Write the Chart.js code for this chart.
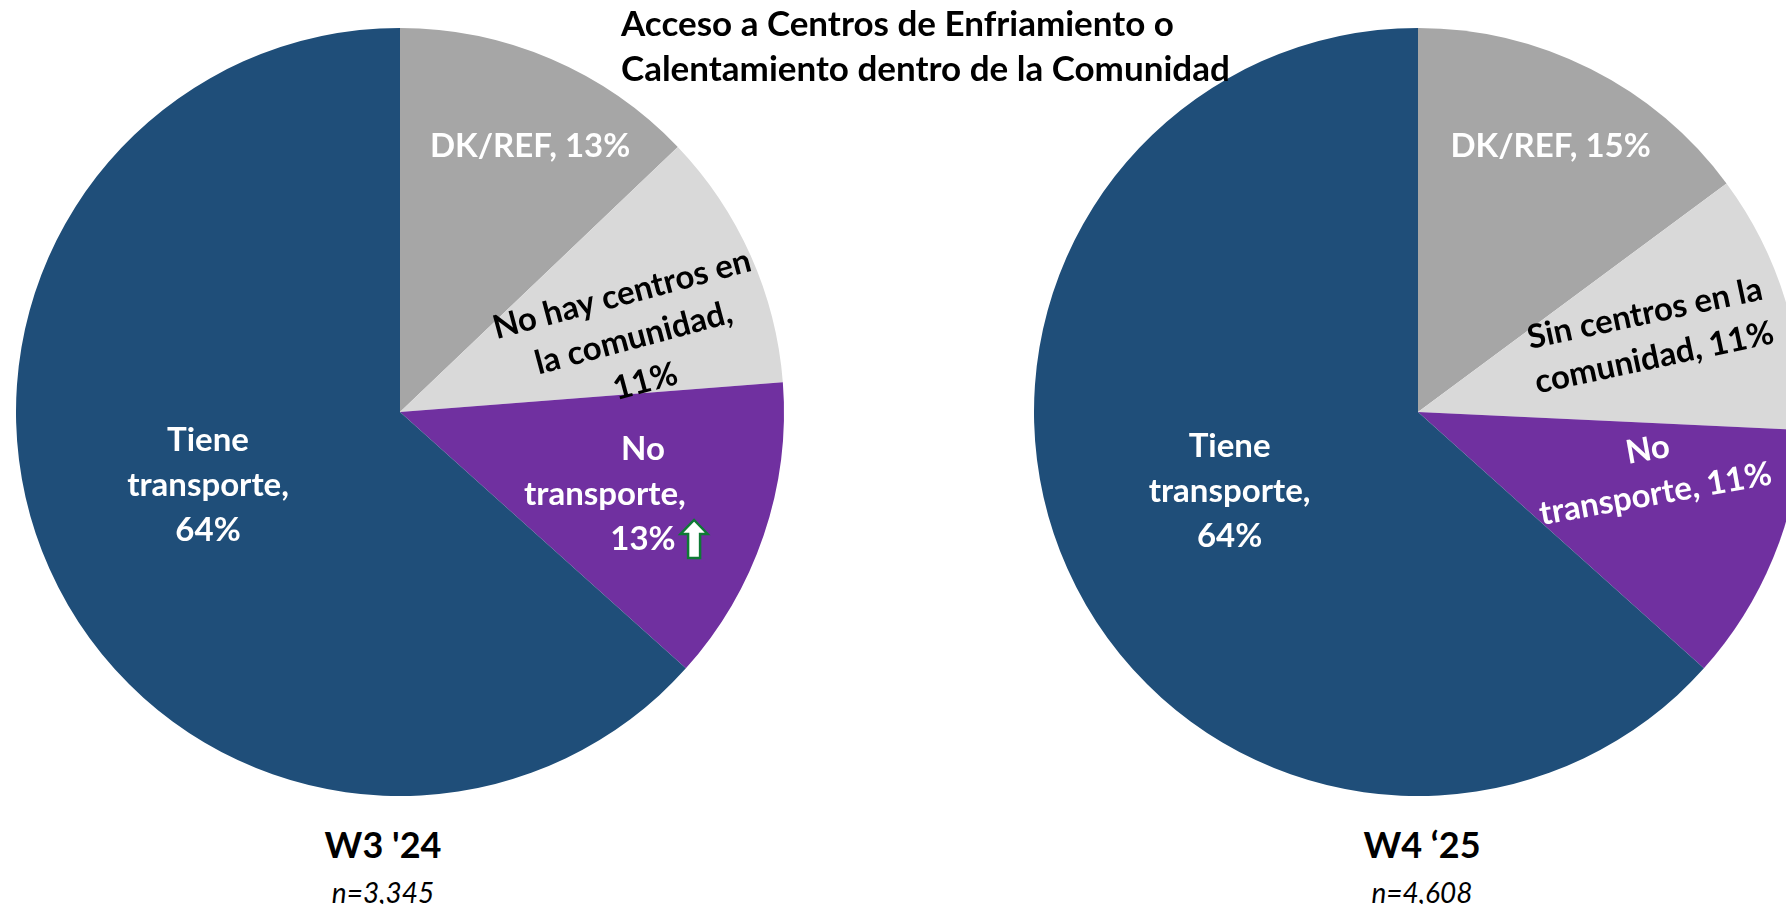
<!DOCTYPE html>
<html>
<head>
<meta charset="utf-8">
<script src="https://cdn.jsdelivr.net/npm/chart.js@4.4.0/dist/chart.umd.min.js"></script>
<style>
  html, body { margin: 0; padding: 0; width: 1786px; height: 904px; overflow: hidden; background: #fff; }
  canvas { position: absolute; }
  #title { position: absolute; left: 621px; top: 0px; font: bold 35px Lato, sans-serif; line-height: 45px; color: #000; white-space: nowrap; z-index: 2; }
  .wave { position: absolute; top: 822px; width: 300px; text-align: center; line-height: 45px; color: #000; z-index: 2; }
  .wave b { font: bold 36px Lato, sans-serif; }
  .wave i { font: italic 28px Lato, sans-serif; }
</style>
</head>
<body>
<div id="title">Acceso a Centros de Enfriamiento o<br>Calentamiento dentro de la Comunidad</div>
<canvas id="pieW3" width="800" height="800" style="left:0px;top:12px"></canvas>
<canvas id="pieW4" width="800" height="800" style="left:1018px;top:12px"></canvas>
<div class="wave" style="left:233px"><b>W3 '24</b><br><i>n=3,345</i></div>
<div class="wave" style="left:1272px"><b>W4 ‘25</b><br><i>n=4,608</i></div>

<script>
// Categories, clockwise from 12 o'clock
const categories = ['DK/REF', 'Sin centros en la comunidad', 'No transporte', 'Tiene transporte'];

// Percentages per wave
const valuesW3 = [13, 11, 13, 64];
const valuesW4 = [15, 11, 11, 64];

// Slice label text, line by line ({v} is replaced by the slice value)
const labelLinesW3 = [
  ['DK/REF, {v}%'],
  ['No hay centros en', 'la comunidad,', '{v}%'],
  ['No', 'transporte,', '{v}%'],
  ['Tiene', 'transporte,', '{v}%']
];
const labelLinesW4 = [
  ['DK/REF, {v}%'],
  ['Sin centros en la', 'comunidad, {v}%'],
  ['No', 'transporte, {v}%'],
  ['Tiene', 'transporte,', '{v}%']
];

const sliceColors = ['#A6A6A6', '#D9D9D9', '#7030A0', '#1F4E79'];
const labelColors = ['#FFFFFF', '#000000', '#FFFFFF', '#FFFFFF'];

// Label placement: distance (share of radius) along the slice mid-angle,
// angular nudge and text rotation in degrees, per-line x shift
const placeW3 = [
  { dist: 0.771, turn: 2.9, rot: 0, shift: [0] },
  { dist: 0.638, turn: 6.5, rot: -15, shift: [0, 0, 0] },
  { dist: 0.621, turn: 1.4, rot: 0, shift: [19, -19, 19], arrow: true },
  { dist: 0.535, turn: 3.2, rot: 0, shift: [0, 0, 0] }
];
const placeW4 = [
  { dist: 0.773, turn: -0.2, rot: 0, shift: [0] },
  { dist: 0.635, turn: -1.3, rot: -12, shift: [0, 0] },
  { dist: 0.628, turn: -7.9, rot: -10, shift: [0, 0] },
  { dist: 0.532, turn: 1.3, rot: 0, shift: [0, 0, 0] }
];

const LABEL_FONT = 'bold 33px Lato, sans-serif';
const LINE_HEIGHT = 45;

// Outlined "increase" arrow drawn to the right of a label line
function drawUpArrow(ctx, left, midY) {
  const w = 27, h = 38, shaft = 12, head = 14;
  const top = midY - h / 2, bottom = midY + h / 2, cx = left + w / 2;
  ctx.save();
  ctx.beginPath();
  ctx.moveTo(cx, top);
  ctx.lineTo(left + w, top + head);
  ctx.lineTo(cx + shaft / 2, top + head);
  ctx.lineTo(cx + shaft / 2, bottom);
  ctx.lineTo(cx - shaft / 2, bottom);
  ctx.lineTo(cx - shaft / 2, top + head);
  ctx.lineTo(left, top + head);
  ctx.closePath();
  ctx.fillStyle = '#FFFFFF';
  ctx.fill();
  ctx.lineWidth = 2.5;
  ctx.strokeStyle = '#0E7A35';
  ctx.lineJoin = 'miter';
  ctx.stroke();
  ctx.restore();
}

// Per-chart plugin that writes the labels inside each slice
function sliceLabels(lines, place) {
  return {
    id: 'sliceLabels',
    afterDatasetsDraw(chart) {
      const ctx = chart.ctx;
      const meta = chart.getDatasetMeta(0);
      const values = chart.data.datasets[0].data;
      meta.data.forEach((arc, i) => {
        const spec = place[i];
        const p = arc.getProps(['x', 'y', 'startAngle', 'endAngle', 'outerRadius'], true);
        const a = (p.startAngle + p.endAngle) / 2 + spec.turn * Math.PI / 180;
        const cx = p.x + Math.cos(a) * spec.dist * p.outerRadius;
        const cy = p.y + Math.sin(a) * spec.dist * p.outerRadius;
        const text = lines[i].map(s => s.replace('{v}', values[i]));
        ctx.save();
        ctx.translate(cx, cy);
        ctx.rotate(spec.rot * Math.PI / 180);
        ctx.font = LABEL_FONT;
        ctx.fillStyle = labelColors[i];
        ctx.textAlign = 'center';
        ctx.textBaseline = 'middle';
        const n = text.length;
        text.forEach((t, k) => {
          const ly = (k - (n - 1) / 2) * LINE_HEIGHT;
          const lx = spec.shift[k] || 0;
          ctx.fillText(t, lx, ly);
          if (spec.arrow && k === n - 1) {
            drawUpArrow(ctx, lx + ctx.measureText(t).width / 2 + 5, ly);
          }
        });
        ctx.restore();
      });
    }
  };
}

function makePie(id, values, lines, place) {
  return new Chart(document.getElementById(id), {
    type: 'pie',
    data: {
      labels: categories,
      datasets: [{
        data: values,
        backgroundColor: sliceColors,
        borderWidth: 0
      }]
    },
    options: {
      responsive: false,
      animation: false,
      layout: { padding: 16 },
      plugins: {
        legend: { display: false },
        tooltip: { enabled: false }
      }
    },
    plugins: [sliceLabels(lines, place)]
  });
}

makePie('pieW3', valuesW3, labelLinesW3, placeW3);
makePie('pieW4', valuesW4, labelLinesW4, placeW4);
</script>
</body>
</html>
